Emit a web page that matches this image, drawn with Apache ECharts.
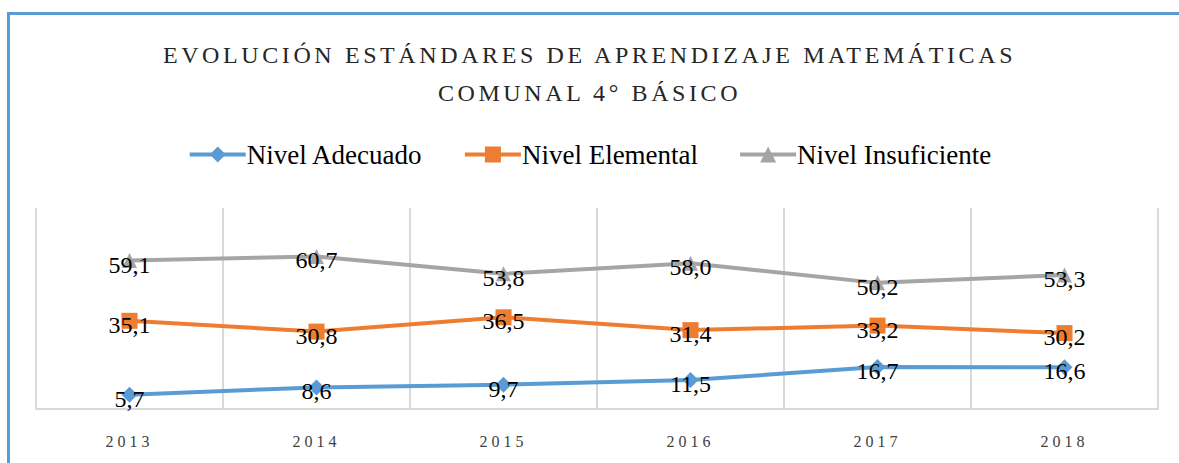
<!DOCTYPE html>
<html>
<head>
    <meta charset="utf-8">
    <title>Evolución estándares de aprendizaje</title>
    <script src="https://cdn.jsdelivr.net/npm/echarts@6/dist/echarts.min.js"></script>
    <style>
        html, body { margin: 0; padding: 0; background: #fff; overflow: hidden; }
        #frame { position: absolute; left: 7px; top: 12px; width: 1200px; height: 480px;
                 border-left: 3px solid #5b9bd5; border-top: 3px solid #5b9bd5; }
        #main { position: absolute; left: 0; top: 0; width: 1179px; height: 463px; }
        /* espaciado de letras del titulo y del eje (renderer svg) */
        #main text[style*="SpacedTitle"] { letter-spacing: 3.6px; }
        #main text[style*="SpacedAxis"] { letter-spacing: 4px; }
    </style>
</head>
<body>
<div id="frame"></div>
<div id="main"></div>
<script type="text/javascript">
    // datos
    var years = ['2013', '2014', '2015', '2016', '2017', '2018'];
    var adecuado = [5.7, 8.6, 9.7, 11.5, 16.7, 16.6];
    var elemental = [35.1, 30.8, 36.5, 31.4, 33.2, 30.2];
    var insuficiente = [59.1, 60.7, 53.8, 58.0, 50.2, 53.3];

    var serif = 'Liberation Serif, DejaVu Serif, serif';

    function fmt(p) {
        return p.value.toFixed(1).replace('.', ',');
    }

    function serie(name, data, color, symbol, size) {
        return {
            name: name,
            type: 'line',
            data: data,
            symbol: symbol,
            symbolSize: size,
            lineStyle: { color: color, width: 4 },
            itemStyle: { color: color },
            label: {
                show: true,
                position: 'inside',
                offset: [0, 4],
                formatter: fmt,
                color: '#000',
                fontFamily: serif,
                fontSize: 24
            }
        };
    }

    var option = {
        backgroundColor: 'transparent',
        animation: false,
        title: {
            left: 'center',
            top: 31,
            text: 'EVOLUCIÓN ESTÁNDARES DE APRENDIZAJE MATEMÁTICAS\nCOMUNAL 4° BÁSICO',
            textStyle: {
                color: '#262626',
                fontFamily: 'SpacedTitle, ' + serif,
                fontWeight: 'normal',
                fontSize: 24,
                lineHeight: 38
            }
        },
        legend: {
            top: 136,
            left: 'center',
            itemWidth: 56,
            itemHeight: 20,
            itemGap: 40,
            lineStyle: { width: 4 },
            textStyle: { color: '#000', fontFamily: serif, fontSize: 27, padding: [0, 0, 0, -4] },
            data: ['Nivel Adecuado', 'Nivel Elemental', 'Nivel Insuficiente']
        },
        grid: { left: 36, right: 21, top: 208, bottom: 54 },
        xAxis: {
            type: 'category',
            data: years,
            boundaryGap: true,
            axisLine: { lineStyle: { color: '#d9d9d9', width: 2 } },
            axisTick: { show: false },
            splitLine: { show: true, lineStyle: { color: '#d9d9d9', width: 2 } },
            axisLabel: { color: '#404040', fontFamily: 'SpacedAxis, ' + serif, fontSize: 16, margin: 24 }
        },
        yAxis: {
            type: 'value',
            min: 0,
            max: 80,
            show: false,
            splitLine: { show: false }
        },
        series: [
            serie('Nivel Adecuado', adecuado, '#5b9bd5', 'diamond', 16),
            serie('Nivel Elemental', elemental, '#ed7d31', 'rect', 16),
            serie('Nivel Insuficiente', insuficiente, '#a5a5a5', 'triangle', 15)
        ]
    };

    var myChart = echarts.init(document.getElementById('main'), null, { renderer: 'svg' });
    myChart.setOption(option);
</script>
</body>
</html>
